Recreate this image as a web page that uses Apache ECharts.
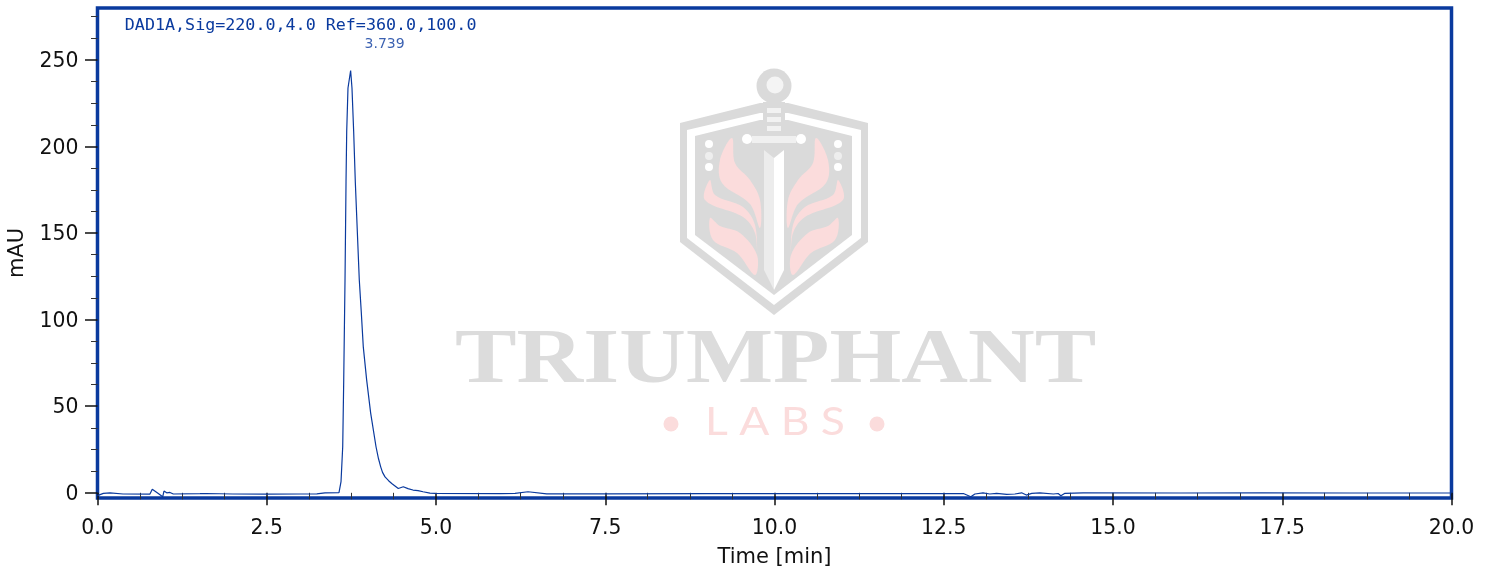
<!DOCTYPE html>
<html>
<head>
<meta charset="utf-8">
<style>html,body{margin:0;padding:0;background:#fff}#c{width:1493px;height:570px}</style>
<script src="https://cdn.jsdelivr.net/npm/echarts@6/dist/echarts.min.js"></script>
</head>
<body>
<div id="c"></div>
<script>
const times = [0,0.012,0.086,0.185,0.377,0.775,0.809,0.898,0.963,0.982,1.022,1.071,1.12,1.514,1.6,2.0,2.5,3.0,3.24,3.36,3.567,3.597,3.622,3.637,3.656,3.671,3.681,3.70,3.739,3.759,3.784,3.808,3.867,3.897,3.926,3.976,4.035,4.114,4.15,4.183,4.21,4.247,4.30,4.346,4.443,4.517,4.586,4.66,4.734,4.808,4.911,4.985,5.945,6.167,6.359,6.635,7.5,9.0,10.5,11.2,12.0,12.79,12.90,12.96,13.08,13.18,13.28,13.43,13.55,13.65,13.72,13.80,13.92,14.12,14.19,14.23,14.29,14.56,16.0,17.2,18.5,20.0];
const signal = [-1.6,-1.3,-0.3,0,-0.7,-0.75,2.1,-0.4,-2.3,1.0,0,0.2,-0.7,-0.5,-0.4,-0.7,-0.8,-0.7,-0.6,0,0.1,6.4,26.6,65.1,122.9,179.7,208.5,233.8,243.9,233.8,208.5,179.7,122.9,103.8,84.3,65.1,46.0,26.6,19.8,15.0,11.8,9.2,7.0,5.4,2.5,3.5,2.4,1.6,1.3,0.6,-0.2,-0.3,-0.5,-0.3,0.6,-0.6,-0.6,-0.5,-0.5,-0.4,-0.5,-0.4,-2.3,-0.7,0,-0.7,-0.3,-0.9,-0.7,0,-1.3,-0.3,0,-0.7,-0.4,-1.7,-0.3,0,-0.1,0,-0.1,-0.1];
const yMajor = [0,50,100,150,200,250];
const yMinor = [12.5,25,37.5,62.5,75,87.5,112.5,125,137.5,162.5,175,187.5,212.5,225,237.5,262.5,275];
const peakTime = [3.739];
const peakValue = [243.9];
const peakLabel = ['3.739'];
const signalTitle = 'DAD1A,Sig=220.0,4.0 Ref=360.0,100.0';

const BLUE = '#0a3a9e', GREY = '#dadada', PINK = '#fbdcdc';
const flameA = [[732,138],[720,160],[722,183],[750,204],[760,228],[760,200],[750,180],[735,163]];
const flameB = [[710,180],[705,200],[743,217],[755,233],[757,258],[755,225],[743,207],[715,195]];
const flameC = [[710,218],[713,240],[737,253],[755,275],[757,255],[740,233],[720,226]];
const pink = {fill: PINK};
const white = {fill: '#ffffff'};
const grey = {fill: GREY};
const flamePieces = [];
[flameA, flameB, flameC].forEach(pts => {
  flamePieces.push({type:'polygon', shape:{points:pts, smooth:0.35}, style:pink});
  flamePieces.push({type:'polygon', shape:{points:pts.map(p=>[1548-p[0],p[1]]), smooth:0.35}, style:pink});
});
const watermark = [
 {type:'polygon', shape:{points:[[680,123],[760,103],[788,103],[868,123],[868,242],[774,315],[680,242]]}, style:grey},
 {type:'polygon', shape:{points:[[687,130],[760,113],[788,113],[861,130],[861,238],[774,305],[687,238]]}, style:white},
 {type:'polygon', shape:{points:[[695,136],[760,120],[788,120],[852,136],[852,235],[774,295],[695,235]]}, style:grey},
 ...flamePieces,
 {type:'circle', shape:{cx:774,cy:86,r:17.5}, style:grey},
 {type:'circle', shape:{cx:775,cy:85,r:8.5}, style:{fill:'#f4f4f4'}},
 {type:'rect', shape:{x:763,y:102,width:22,height:34}, style:grey},
 {type:'rect', shape:{x:767,y:108,width:14,height:5}, style:{fill:'#f2f2f2'}},
 {type:'rect', shape:{x:767,y:117,width:14,height:5}, style:{fill:'#f2f2f2'}},
 {type:'rect', shape:{x:767,y:126,width:14,height:5}, style:{fill:'#f2f2f2'}},
 {type:'rect', shape:{x:752,y:136,width:44,height:7}, style:{fill:'#f0f0f0'}},
 {type:'circle', shape:{cx:747,cy:139,r:5}, style:white},
 {type:'circle', shape:{cx:801,cy:139,r:5}, style:white},
 {type:'polygon', shape:{points:[[764,150],[774,158],[774,290],[764,270]]}, style:{fill:'#ececec'}},
 {type:'polygon', shape:{points:[[784,150],[774,158],[774,290],[784,270]]}, style:white},
 {type:'circle', shape:{cx:709,cy:144,r:4}, style:white},
 {type:'circle', shape:{cx:709,cy:156,r:4}, style:{fill:'#eeeeee'}},
 {type:'circle', shape:{cx:709,cy:167,r:4}, style:white},
 {type:'circle', shape:{cx:838,cy:144,r:4}, style:white},
 {type:'circle', shape:{cx:838,cy:156,r:4}, style:{fill:'#eeeeee'}},
 {type:'circle', shape:{cx:838,cy:167,r:4}, style:white},
 {type:'text', x:455, y:361.5, scaleX:1.184,
  style:{text:'TRIUMPHANT', fill:'#dcdcdc', font:'bold 78px "Liberation Serif"', textAlign:'left', textVerticalAlign:'middle'}},
 {type:'text', x:775, y:423, scaleX:1.17,
  style:{text:'L A B S', fill:PINK, font:'38px "Lato"', textAlign:'center', textVerticalAlign:'middle'}},
 {type:'circle', shape:{cx:671,cy:424,r:7.5}, style:pink},
 {type:'circle', shape:{cx:877,cy:424,r:7.5}, style:pink}
].map(e => Object.assign({z:-1, silent:true}, e));

const chart = echarts.init(document.getElementById('c'), null, {renderer:'canvas'});
const labelFont = {fontFamily:'DejaVu Sans', fontSize:20.4, color:'#111'};
const nameFont = {fontFamily:'DejaVu Sans', fontSize:21, color:'#111'};
chart.setOption({
  animation:false,
  backgroundColor:'#ffffff',
  graphic: watermark,
  title:{text:signalTitle, left:119.8, top:12, textStyle:{fontFamily:'DejaVu Sans Mono', fontSize:16.7, fontWeight:'normal', color:BLUE}},
  grid:{left:97.5, top:8, width:1354, height:490, show:true, borderColor:BLUE, borderWidth:3.5, backgroundColor:'transparent', containLabel:false, outerBoundsMode:'none'},
  xAxis:{type:'value', min:0, max:20, interval:2.5,
    name:'Time [min]', nameLocation:'middle', nameGap:49, nameTextStyle:nameFont,
    axisLine:{show:false}, splitLine:{show:false},
    axisTick:{show:true, length:12.5, lineStyle:{color:'#111', width:1.5}},
    minorTick:{show:true, splitNumber:4, length:6.5, lineStyle:{color:'#333', width:1}},
    axisLabel:Object.assign({margin:21, formatter:v => v.toFixed(1)}, labelFont)},
  yAxis:[
   {type:'value', min:-3, max:280,
    name:'mAU', nameLocation:'middle', nameGap:69, nameRotate:90, nameTextStyle:nameFont,
    axisLine:{show:false}, splitLine:{show:false},
    axisTick:{show:true, length:12.5, customValues:yMajor, lineStyle:{color:'#111', width:1.5}},
    axisLabel:Object.assign({margin:19, customValues:yMajor, verticalAlign:'top', lineHeight:3.5}, labelFont)},
   {type:'value', min:-3, max:280, position:'left',
    axisLine:{show:false}, splitLine:{show:false}, axisLabel:{show:false, customValues:yMinor},
    axisTick:{show:true, length:6.5, customValues:yMinor, lineStyle:{color:'#333', width:1}}}
  ],
  series:[
   {type:'line', name:'DAD1A', data:times.map((t,i)=>[t,signal[i]]), symbol:'none', smooth:false,
    lineStyle:{color:BLUE, width:1.2}, z:3},
   {type:'scatter', name:'peak', data:peakTime.map((t,i)=>[t,peakValue[i]]), symbolSize:1, itemStyle:{color:'transparent'},
    label:{show:true, position:'inside', offset:[34,-26.5], formatter:p=>peakLabel[p.dataIndex],
      fontFamily:'DejaVu Sans', fontSize:14, color:BLUE}, z:3}
  ]
});
</script>
</body>
</html>
